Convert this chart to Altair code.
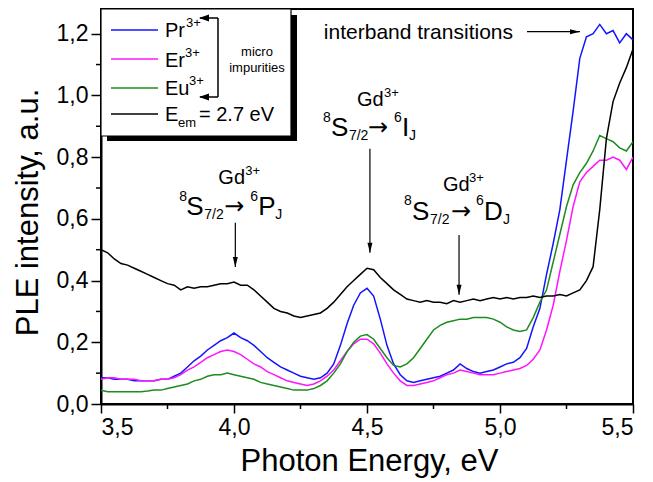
import altair as alt
import pandas as pd

FONT = "Liberation Sans"

ENERGY = [3.500, 3.525, 3.550, 3.575, 3.600, 3.625, 3.650, 3.675, 3.700, 3.725,
          3.750, 3.775, 3.800, 3.825, 3.850, 3.875, 3.900, 3.925, 3.950, 3.975,
          4.000, 4.025, 4.050, 4.075, 4.100, 4.125, 4.150, 4.175, 4.200, 4.225,
          4.250, 4.275, 4.300, 4.325, 4.350, 4.375, 4.400, 4.425, 4.450, 4.475,
          4.500, 4.525, 4.550, 4.575, 4.600, 4.625, 4.650, 4.675, 4.700, 4.725,
          4.750, 4.775, 4.800, 4.825, 4.850, 4.875, 4.900, 4.925, 4.950, 4.975,
          5.000, 5.025, 5.050, 5.075, 5.100, 5.125, 5.150, 5.175, 5.200, 5.225,
          5.250, 5.275, 5.300, 5.325, 5.350, 5.375, 5.400, 5.425, 5.450, 5.475,
          5.500]

PR = [0.085, 0.085, 0.080, 0.080, 0.080, 0.075, 0.075, 0.075, 0.075, 0.080,
      0.080, 0.090, 0.100, 0.120, 0.140, 0.155, 0.175, 0.190, 0.205, 0.215,
      0.230, 0.215, 0.205, 0.190, 0.170, 0.150, 0.135, 0.120, 0.110, 0.100,
      0.090, 0.085, 0.080, 0.085, 0.100, 0.130, 0.190, 0.260, 0.320, 0.360,
      0.375, 0.350, 0.275, 0.190, 0.130, 0.095, 0.075, 0.070, 0.075, 0.080,
      0.085, 0.090, 0.100, 0.110, 0.130, 0.115, 0.105, 0.100, 0.105, 0.110,
      0.120, 0.130, 0.135, 0.150, 0.180, 0.250, 0.310, 0.420, 0.520, 0.630,
      0.790, 0.950, 1.120, 1.190, 1.200, 1.230, 1.200, 1.210, 1.170, 1.200,
      1.180]

ER = [0.080, 0.085, 0.085, 0.080, 0.080, 0.080, 0.075, 0.075, 0.075, 0.080,
      0.080, 0.085, 0.095, 0.110, 0.120, 0.135, 0.150, 0.160, 0.170, 0.175,
      0.170, 0.160, 0.145, 0.130, 0.120, 0.105, 0.095, 0.085, 0.075, 0.070,
      0.065, 0.060, 0.065, 0.075, 0.090, 0.110, 0.140, 0.170, 0.195, 0.210,
      0.210, 0.195, 0.165, 0.130, 0.100, 0.075, 0.060, 0.060, 0.065, 0.070,
      0.075, 0.085, 0.095, 0.100, 0.110, 0.105, 0.100, 0.095, 0.095, 0.095,
      0.100, 0.105, 0.110, 0.115, 0.125, 0.145, 0.175, 0.240, 0.320, 0.430,
      0.530, 0.640, 0.720, 0.750, 0.770, 0.790, 0.790, 0.800, 0.790, 0.760,
      0.800]

EU = [0.045, 0.040, 0.040, 0.040, 0.040, 0.040, 0.040, 0.042, 0.045, 0.045,
      0.050, 0.055, 0.060, 0.065, 0.075, 0.080, 0.090, 0.095, 0.095, 0.100,
      0.095, 0.090, 0.085, 0.080, 0.070, 0.065, 0.060, 0.055, 0.050, 0.045,
      0.045, 0.045, 0.050, 0.060, 0.075, 0.100, 0.130, 0.170, 0.200, 0.220,
      0.225, 0.210, 0.180, 0.150, 0.125, 0.120, 0.130, 0.150, 0.180, 0.210,
      0.240, 0.255, 0.265, 0.270, 0.275, 0.275, 0.280, 0.280, 0.280, 0.275,
      0.265, 0.250, 0.240, 0.235, 0.240, 0.280, 0.330, 0.370, 0.460, 0.550,
      0.640, 0.710, 0.750, 0.780, 0.820, 0.870, 0.860, 0.850, 0.830, 0.820,
      0.850]

EEM = [0.500, 0.490, 0.470, 0.455, 0.450, 0.440, 0.430, 0.420, 0.410, 0.400,
       0.390, 0.385, 0.370, 0.380, 0.375, 0.380, 0.380, 0.385, 0.390, 0.390,
       0.395, 0.385, 0.385, 0.370, 0.350, 0.330, 0.310, 0.300, 0.295, 0.285,
       0.280, 0.285, 0.290, 0.295, 0.310, 0.330, 0.355, 0.380, 0.400, 0.420,
       0.440, 0.435, 0.410, 0.390, 0.370, 0.355, 0.340, 0.335, 0.330, 0.335,
       0.330, 0.330, 0.325, 0.335, 0.330, 0.335, 0.340, 0.335, 0.340, 0.345,
       0.340, 0.345, 0.340, 0.345, 0.345, 0.350, 0.345, 0.350, 0.350, 0.355,
       0.350, 0.360, 0.370, 0.400, 0.445, 0.630, 0.860, 0.980, 1.040, 1.090,
       1.150]

SERIES = ["Pr", "Er", "Eu", "Eem"]
COLORS = ["#1414ff", "#ff14ff", "#1e8c1e", "#000000"]
VALUES = [PR, ER, EU, EEM]

X_TICKS = [3.5, 4.0, 4.5, 5.0, 5.5]
Y_TICKS = [0, 0.2, 0.4, 0.6, 0.8, 1.0, 1.2]
X_MINOR = [3.75, 4.25, 4.75, 5.25]
Y_MINOR = [0.1, 0.3, 0.5, 0.7, 0.9, 1.1]

rows = []
for name, vals in zip(SERIES, VALUES):
    for e, v in zip(ENERGY, vals):
        rows.append({"energy": e, "ple": v, "series": name})
df = pd.DataFrame(rows)

W, H = 532, 395
xs = alt.Scale(domain=[3.5, 5.5], nice=False, zero=False)
ys = alt.Scale(domain=[0, 1.28], nice=False, zero=False)
LABEL_EXPR = "replace(format(datum.value, '.1f'), '.', ',')"
X_AXIS = alt.Axis(values=X_TICKS, labelExpr=LABEL_EXPR, tickSize=9, labelPadding=3,
                  titleX=268, titleY=66, titleBaseline="alphabetic", titleAlign="center")
Y_AXIS = alt.Axis(values=Y_TICKS, labelExpr=LABEL_EXPR, tickSize=10, labelPadding=3,
                  titleX=-73, titleY=203, titleBaseline="middle", titleAlign="center")
X_TITLE = "Photon Energy, eV"
Y_TITLE = "PLE intensity, a.u."
X_ENC = alt.X("energy:Q", scale=xs, title=X_TITLE, axis=X_AXIS)
Y_ENC = alt.Y("ple:Q", scale=ys, title=Y_TITLE, axis=Y_AXIS)
DUMMY = pd.DataFrame({"k": [0]})

layers = []

lines = alt.Chart(df).mark_line(strokeWidth=1.5, clip=True).encode(
    x=X_ENC, y=Y_ENC,
    color=alt.Color("series:N", scale=alt.Scale(domain=SERIES, range=COLORS), legend=None),
    detail="series:N",
)
layers.append(lines)

# minor ticks
minor_x = alt.Chart(pd.DataFrame({"energy": X_MINOR})).mark_rule(
    color="black", strokeWidth=1.5).encode(x=X_ENC, y=alt.value(H), y2=alt.value(H + 5))
minor_y = alt.Chart(pd.DataFrame({"ple": Y_MINOR})).mark_rule(
    color="black", strokeWidth=1.5).encode(y=Y_ENC, x=alt.value(0), x2=alt.value(-5))
layers += [minor_x, minor_y]


def pt(xv, yv):
    return alt.Chart(pd.DataFrame({"energy": [xv], "ple": [yv]}))


def piece(xv, yv, text, size, dx, dy, align="left", font=FONT):
    return pt(xv, yv).mark_text(text=text, fontSize=size, dx=dx, dy=dy, align=align,
                                baseline="alphabetic", font=font, color="black").encode(
        x=X_ENC, y=Y_ENC)


def varrow(xv, y1, y2):
    rule = alt.Chart(pd.DataFrame({"energy": [xv], "ple": [y1], "ple2": [y2]})).mark_rule(
        color="black", strokeWidth=1.2).encode(x=X_ENC, y=Y_ENC, y2=alt.Y2("ple2:Q"))
    head = pt(xv, y2).mark_point(shape="M-0.5,-2L0.5,-2L0,0Z", size=100, filled=True,
                                 color="black", opacity=1).encode(x=X_ENC, y=Y_ENC)
    return [rule, head]


def gd_label(xv, yv, pieces):
    out = []
    for (t, s, dx, dy) in pieces:
        if t == "\u2192":
            out.append(piece(xv, yv, t, s, dx, dy, font="DejaVu Sans"))
        else:
            out.append(piece(xv, yv, t, s, dx, dy))
    return out


# Gd3+ 8S7/2 -> 6PJ
layers += gd_label(4.005, 0.613, [
    ("Gd", 20, -17, -31), ("3+", 13, 10, -40),
    ("8", 14, -56, -14), ("S", 26, -49, 0), ("7/2", 14, -31, 4), ("\u2192", 24, -11, -1),
    ("6", 14, 15, -14), ("P", 26, 23, 0), ("J", 14, 40, 4)])
layers += varrow(4.005, 0.587, 0.444)

# Gd3+ 8S7/2 -> 6IJ
layers += gd_label(4.511, 0.869, [
    ("Gd", 20, -13, -30), ("3+", 13, 14, -39),
    ("8", 14, -47, -14), ("S", 26, -39, 0), ("7/2", 14, -21, 4), ("\u2192", 24, -2, -1),
    ("6", 14, 24, -14), ("I", 26, 32, 0), ("J", 14, 39, 4)])
layers += varrow(4.511, 0.827, 0.490)

# Gd3+ 8S7/2 -> 6DJ
layers += gd_label(4.846, 0.597, [
    ("Gd", 20, -16, -29), ("3+", 13, 10, -38),
    ("8", 14, -55, -15), ("S", 26, -47, 0), ("7/2", 14, -29, 4), ("\u2192", 24, -8, -1),
    ("6", 14, 17, -15), ("D", 26, 25, 0), ("J", 14, 44, 4)])
layers += varrow(4.846, 0.548, 0.354)

# interband transitions
layers.append(piece(5.1015, 1.2065, "interband transitions", 21, -14, 7.5, align="right"))
layers.append(alt.Chart(pd.DataFrame({"energy": [5.1015], "energy2": [5.3008], "ple": [1.2065]}))
              .mark_rule(color="black", strokeWidth=1.2)
              .encode(x=X_ENC, x2=alt.X2("energy2:Q"), y=Y_ENC))
layers.append(pt(5.3008, 1.2065).mark_point(shape="M-2,-0.5L-2,0.5L0,0Z", size=100, filled=True,
                                            color="black", opacity=1).encode(x=X_ENC, y=Y_ENC))

# legend box
layers.append(alt.Chart(DUMMY).mark_rect(color="black").encode(
    x=alt.value(6), x2=alt.value(196), y=alt.value(6), y2=alt.value(132)))
layers.append(alt.Chart(DUMMY).mark_rect(fill="white", stroke="black", strokeWidth=1.2).encode(
    x=alt.value(0), x2=alt.value(190), y=alt.value(0), y2=alt.value(127)))

LEG_Y = [21, 50, 79, 105]
for c, yy in zip(COLORS, LEG_Y):
    layers.append(alt.Chart(DUMMY).mark_rule(color=c, strokeWidth=1.5).encode(
        x=alt.value(10), x2=alt.value(57), y=alt.value(yy)))


def lpiece(x, y, text, size, align="left"):
    return alt.Chart(DUMMY).mark_text(text=text, fontSize=size, align=align, baseline="alphabetic",
                                      font=FONT, color="black").encode(x=alt.value(x), y=alt.value(y))


layers += [
    lpiece(64, 28, "Pr", 20), lpiece(85, 18, "3+", 13),
    lpiece(64, 58, "Er", 20), lpiece(84, 48, "3+", 13),
    lpiece(64, 86, "Eu", 20), lpiece(88, 76, "3+", 13),
    lpiece(64, 112, "E", 20), lpiece(77, 118, "em", 13), lpiece(98, 112, "= 2.7 eV", 20),
    lpiece(156, 47, "micro", 13, align="center"), lpiece(156, 63, "impurities", 13, align="center"),
]

# bracket
for (x1, y1, x2, y2) in [(99, 9, 117, 9), (117, 9, 117, 88), (117, 88, 99, 88)]:
    layers.append(alt.Chart(DUMMY).mark_rule(color="black", strokeWidth=1.5).encode(
        x=alt.value(x1), x2=alt.value(x2), y=alt.value(y1), y2=alt.value(y2)))
for yy in [9, 88]:
    layers.append(alt.Chart(DUMMY).mark_point(shape="M2,-0.7L2,0.7L0,0Z", size=100, filled=True,
                                              color="black", opacity=1).encode(
        x=alt.value(98), y=alt.value(yy)))

chart = alt.layer(*layers).properties(
    width=W, height=H,
    padding={"left": 93, "top": 1, "right": 12, "bottom": 76},
    autosize=alt.AutoSizeParams(type="none"),
).configure_view(stroke="black", strokeWidth=2).configure_axis(
    labelFont=FONT, titleFont=FONT, labelFontSize=23, titleFontSize=31,
    titleFontWeight="normal", labelColor="black", titleColor="black",
    domainColor="black", domainWidth=2, tickColor="black", tickWidth=1.5, grid=False,
)

chart.save("out.html", embed_options={"renderer": "svg", "actions": False})
